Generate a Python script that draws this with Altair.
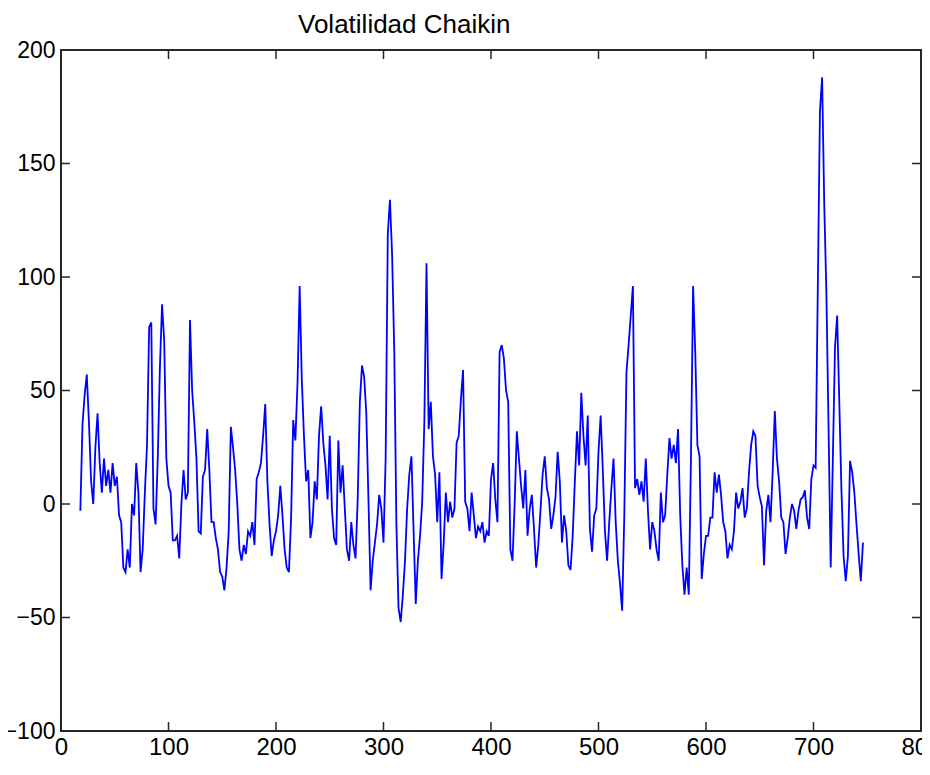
import altair as alt
import pandas as pd

TITLE = "Volatilidad Chaikin"
X_START = 18
X_STEP = 2

values = [
    -3, 35, 48, 57, 36, 10, 0, 25, 40, 18, 5, 20, 8, 15, 5, 18, 8, 12, -5, -8,
    -28, -30, -20, -28, 0, -5, 18, 5, -30, -20, 5, 26, 78, 80, -2, -9, 20, 60, 88, 72,
    20, 8, 5, -16, -16, -14, -24, 0, 15, 2, 5, 81, 50, 36, 20, -12, -13, 12, 15, 33,
    15, -8, -8, -15, -20, -30, -32, -38, -28, -12, 34, 25, 15, 0, -20, -25, -18, -22, -12, -14,
    -8, -18, 11, 14, 18, 30, 44, 10, -9, -23, -16, -12, -5, 8, -5, -20, -28, -30, -7, 37,
    28, 53, 96, 55, 30, 10, 15, -15, -8, 10, 2, 30, 43, 27, 17, 2, 30, -2, -15, -18,
    28, 5, 17, -2, -20, -25, -8, -18, -24, 2, 45, 61, 56, 40, 2, -38, -25, -17, -9, 4,
    -2, -17, 20, 119, 134, 110, 68, -9, -46, -52, -40, -25, -2, 13, 21, -12, -44, -25, -14, 1,
    36, 106, 33, 45, 21, 13, -8, 14, -33, -17, 5, -8, 1, -6, -2, 27, 30, 46, 59, 1,
    -2, -12, 5, -5, -15, -10, -12, -8, -17, -12, -14, 11, 18, 2, -8, 67, 70, 64, 50, 45,
    -20, -25, 0, 32, 20, 8, -2, 15, -14, -2, 4, -11, -28, -18, -3, 13, 21, 7, 2, -11,
    -5, 3, 23, 10, -17, -5, -12, -27, -29, -14, 10, 32, 17, 49, 30, 17, 39, -11, -21, -5,
    -2, 23, 39, 15, -12, -25, -8, 7, 20, -8, -25, -35, -47, -5, 58, 70, 83, 96, 7, 11,
    4, 10, 1, 20, -3, -20, -8, -12, -20, -25, 5, -8, -5, 13, 29, 20, 26, 18, 33, -5,
    -27, -40, -28, -40, 20, 96, 67, 26, 21, -33, -22, -14, -14, -6, -6, 14, 5, 13, 4, -8,
    -12, -24, -18, -20, -12, 5, -2, 1, 7, -6, -2, 14, 26, 32, 30, 8, 3, -1, -27, -3,
    4, -8, 14, 41, 20, 10, -6, -8, -22, -15, -6, 0, -3, -11, -3, 2, 3, 6, -6, -11,
    11, 17, 16, 95, 173, 188, 132, 93, 34, -28, 20, 69, 83, 45, 6, -23, -34, -23, 19, 14,
    5, -9, -22, -34, -17,
]
x_index = [X_START + X_STEP * i for i in range(len(values))]

x_ticks = [0, 100, 200, 300, 400, 500, 600, 700, 800]
y_ticks = [-100, -50, 0, 50, 100, 150, 200]

PAD_L, PAD_T, PAD_R, PAD_B = 53, 42, 1, 31
W, H = 860, 681
TICK = 9
FONT = "Liberation Sans"

df = pd.DataFrame({"x": x_index, "v": values})
xt = pd.DataFrame({"t": x_ticks})
yt = pd.DataFrame({"t": y_ticks})
tt = pd.DataFrame({"t": [TITLE]})

xscale = alt.Scale(domain=[0, 800], nice=False, zero=False)
yscale = alt.Scale(domain=[-100, 200], nice=False, zero=False)

line = alt.Chart(df).mark_line(color="#0000ff", strokeWidth=1.8, clip=True).encode(
    x=alt.X("x:Q", scale=xscale,
            axis=alt.Axis(values=x_ticks, ticks=False, domain=False, grid=False,
                          labelFontSize=24, labelFont=FONT, labelColor="#000000",
                          labelPadding=4, title=None, labelFlush=False,
                          labelOverlap=False, format="d")),
    y=alt.Y("v:Q", scale=yscale,
            axis=alt.Axis(values=y_ticks, ticks=False, domain=False, grid=False,
                          labelFontSize=23, labelFont=FONT, labelColor="#000000",
                          labelPadding=6, title=None, labelFlush=False,
                          labelOverlap=False, format="d")),
)

tick_style = dict(color="#262626", strokeWidth=1.5)

bottom_ticks = alt.Chart(xt).mark_rule(**tick_style).encode(
    x=alt.X("t:Q", scale=xscale), y=alt.value(H), y2=alt.value(H - TICK))
top_ticks = alt.Chart(xt).mark_rule(**tick_style).encode(
    x=alt.X("t:Q", scale=xscale), y=alt.value(0), y2=alt.value(TICK))
left_ticks = alt.Chart(yt).mark_rule(**tick_style).encode(
    y=alt.Y("t:Q", scale=yscale), x=alt.value(0), x2=alt.value(TICK))
right_ticks = alt.Chart(yt).mark_rule(**tick_style).encode(
    y=alt.Y("t:Q", scale=yscale), x=alt.value(W), x2=alt.value(W - TICK))

title = alt.Chart(tt).mark_text(
    align="left", baseline="alphabetic", fontSize=26, font=FONT, color="#000000"
).encode(text="t:N", x=alt.value(298 - 8 - PAD_L), y=alt.value(33 - 8 - PAD_T))

chart = alt.layer(line, bottom_ticks, top_ticks, left_ticks, right_ticks, title).properties(
    width=W,
    height=H,
    autosize=alt.AutoSizeParams(type="none"),
    padding={"left": PAD_L, "top": PAD_T, "right": PAD_R, "bottom": PAD_B},
).configure(background="white").configure_view(stroke="#262626", strokeWidth=2)

chart.save("out.html", embed_options={"renderer": "svg", "actions": False})
